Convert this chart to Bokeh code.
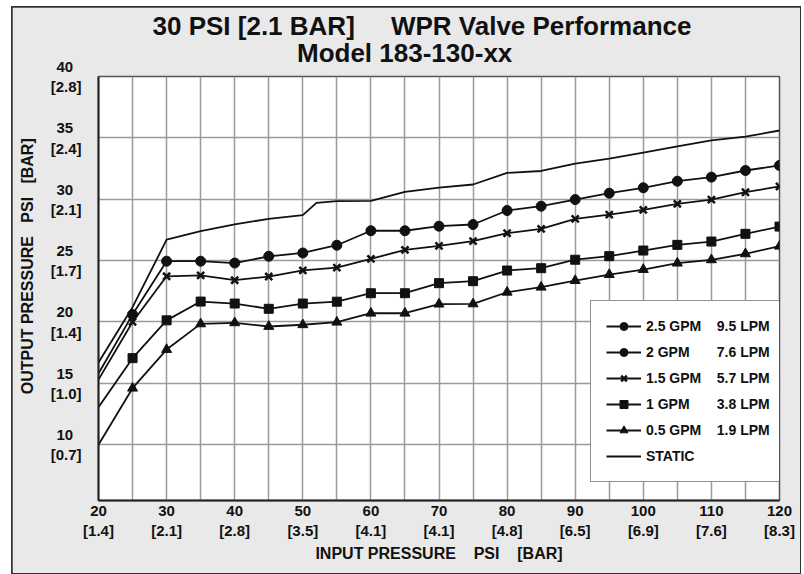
from bokeh.plotting import figure
from bokeh.models import FixedTicker, Legend, LegendItem, Title
from bokeh.embed import file_html
from bokeh.resources import INLINE

# ---------------- data ----------------
input_psi = [20, 25, 30, 35, 40, 45, 50, 55, 60, 65, 70, 75, 80, 85, 90, 95, 100, 105, 110, 115, 120]

static_psi = [20, 25, 30, 35, 40, 45, 50, 52, 55, 60, 65, 70, 75, 80, 85, 90, 95, 100, 105, 110, 115, 120]
static_out = [16.7, 21.2, 26.7, 27.4, 27.95, 28.4, 28.7, 29.7, 29.85, 29.87, 30.6, 30.95, 31.2, 32.15,
              32.3, 32.9, 33.3, 33.8, 34.3, 34.8, 35.1, 35.6]

gpm_2_5 = [15.8, 20.6, 24.95, 24.95, 24.8, 25.35, 25.62, 26.25, 27.43, 27.43, 27.8, 27.94, 29.08,
           29.43, 29.97, 30.49, 30.93, 31.47, 31.8, 32.34, 32.75]
gpm_1_5 = [15.3, 20.0, 23.72, 23.8, 23.4, 23.7, 24.2, 24.43, 25.14, 25.87, 26.2, 26.58, 27.23,
           27.59, 28.4, 28.75, 29.13, 29.62, 29.97, 30.57, 31.04]
gpm_1 = [13.05, 17.05, 20.13, 21.66, 21.5, 21.07, 21.5, 21.65, 22.34, 22.34, 23.16, 23.32, 24.19,
         24.38, 25.07, 25.36, 25.82, 26.28, 26.55, 27.18, 27.77]
gpm_0_5 = [10.0, 14.6, 17.75, 19.84, 19.93, 19.63, 19.77, 19.98, 20.71, 20.71, 21.45, 21.47, 22.42,
           22.83, 23.37, 23.86, 24.27, 24.79, 25.06, 25.55, 26.17]

x_tick_values = [20, 30, 40, 50, 60, 70, 80, 90, 100, 110, 120]
x_tick_bar = ["[1.4]", "[2.1]", "[2.8]", "[3.5]", "[4.1]", "[4.1]", "[4.8]", "[6.5]", "[6.9]", "[7.6]", "[8.3]"]
y_tick_values = [10, 15, 20, 25, 30, 35, 40]
y_tick_bar = ["[0.7]", "[1.0]", "[1.4]", "[1.7]", "[2.1]", "[2.4]", "[2.8]"]

legend_gpm = ["2.5 GPM", "2 GPM", "1.5 GPM", "1 GPM", "0.5 GPM"]
legend_lpm = ["9.5 LPM", "7.6 LPM", "5.7 LPM", "3.8 LPM", "1.9 LPM"]
legend_static = "STATIC"

NB = "\u00a0"
title_line1 = "30 PSI [2.1 BAR]" + NB * 5 + "WPR Valve Performance"
title_line2 = "Model 183-130-xx"
x_title = "INPUT PRESSURE" + NB * 4 + "PSI" + NB * 4 + "[BAR]"
y_title = NB * 10 + "OUTPUT PRESSURE" + NB * 3 + "PSI" + NB * 3 + "[BAR]"

FONT = "Liberation Sans"
INK = "#111111"

# ---------------- figure ----------------
p = figure(width=788, height=566, x_range=(20, 120), y_range=(5.45, 40), title=None,
           output_backend="svg", toolbar_location=None,
           min_border_left=86, min_border_right=21, min_border_top=69, min_border_bottom=73)
p.styles = {"margin-left": "12px", "margin-top": "7px",
            "outline": "2px solid #333333", "outline-offset": "-1px"}
p.border_fill_color = "#e9e9e9"
p.background_fill_color = "white"
p.outline_line_color = "#555555"
p.outline_line_width = 1.5

# two-line title in one block (second line indented), with a thin spacer under it
spacer = Title(text=NB, text_font_size="5px", standoff=0)
title = Title(text=title_line1 + "\n" + NB * 20 + title_line2, align="left", offset=54,
              text_font=FONT, text_font_size="26px", text_font_style="bold", text_color=INK,
              text_line_height=0.93, standoff=0)
p.add_layout(spacer, "above")
p.add_layout(title, "above")

# axes
p.xaxis.ticker = FixedTicker(ticks=x_tick_values)
p.xaxis.major_label_overrides = {v: f"{v}\n{b}" for v, b in zip(x_tick_values, x_tick_bar)}
p.yaxis.ticker = FixedTicker(ticks=y_tick_values)
p.yaxis.major_label_overrides = {v: f"{v}{NB}{NB}\n{b}" for v, b in zip(y_tick_values, y_tick_bar)}
for ax in (p.xaxis[0], p.yaxis[0]):
    ax.major_label_text_font = FONT
    ax.major_label_text_font_size = "15px"
    ax.major_label_text_font_style = "bold"
    ax.major_label_text_color = INK
    ax.axis_label_text_font = FONT
    ax.axis_label_text_font_size = "16px"
    ax.axis_label_text_font_style = "bold"
    ax.axis_label_text_color = INK
    ax.major_tick_out = 0
    ax.major_tick_in = 0
    ax.minor_tick_out = 0
    ax.minor_tick_in = 0
    ax.axis_line_color = "#222222"
    ax.axis_line_width = 2
p.xaxis.axis_label = x_title
p.yaxis.axis_label = y_title
p.xaxis.major_label_standoff = 1
p.yaxis.major_label_standoff = 17
p.xaxis.axis_label_standoff = 3
p.yaxis.axis_label_standoff = 12

# grid
p.xgrid.ticker = FixedTicker(ticks=input_psi)
p.ygrid.ticker = FixedTicker(ticks=y_tick_values)
for g in (p.xgrid[0], p.ygrid[0]):
    g.grid_line_color = "#9a9a9a"
    g.grid_line_width = 1.5

# series
r_static = p.line(static_psi, static_out, line_color=INK, line_width=1.8)

LW = 1.8
r_l25 = p.line(input_psi, gpm_2_5, line_color=INK, line_width=LW)
r_m25 = p.scatter(input_psi[1:], gpm_2_5[1:], marker="circle", size=10, fill_color=INK, line_color=INK)
r_l15 = p.line(input_psi, gpm_1_5, line_color=INK, line_width=LW)
r_m15 = p.scatter(input_psi[1:], gpm_1_5[1:], marker="x", size=10, line_color=INK, line_width=2.5)
r_l1 = p.line(input_psi, gpm_1, line_color=INK, line_width=LW)
r_m1 = p.scatter(input_psi[1:], gpm_1[1:], marker="square", size=9, fill_color=INK, line_color=INK)
r_l05 = p.line(input_psi, gpm_0_5, line_color=INK, line_width=LW)
r_m05 = p.scatter(input_psi[1:], gpm_0_5[1:], marker="triangle", size=10, fill_color=INK, line_color=INK)

series_renderers = [[r_l25, r_m25], [r_l25, r_m25], [r_l15, r_m15], [r_l1, r_m1], [r_l05, r_m05]]
pad = {"2.5 GPM": 4, "2 GPM": 7, "1.5 GPM": 4, "1 GPM": 7, "0.5 GPM": 4}
items = []
for g, l, rs in zip(legend_gpm, legend_lpm, series_renderers):
    items.append(LegendItem(label=g + NB * pad[g] + l, renderers=rs))
items.append(LegendItem(label=legend_static, renderers=[r_static]))

legend = Legend(items=items, location=(492, 18), margin=0, padding=15, spacing=6,
                glyph_width=35, glyph_height=20, label_height=20, label_standoff=5,
                label_text_font=FONT, label_text_font_size="14px", label_text_font_style="bold",
                label_text_color=INK, border_line_color="#222222", border_line_width=1.5,
                background_fill_color="white", background_fill_alpha=1.0)
p.add_layout(legend)

open("out.html", "w").write(file_html(p, INLINE))
